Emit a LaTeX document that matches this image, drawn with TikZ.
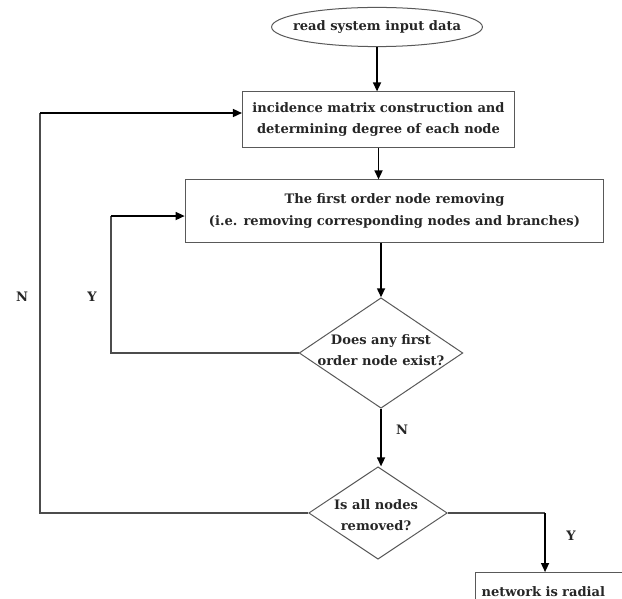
\documentclass[tikz,border=0pt]{standalone}
\usepackage{fontspec}
\setmainfont{DejaVu Serif}
\usetikzlibrary{shapes.geometric,arrows.meta}
\begin{document}
\begin{tikzpicture}[scale=0.35]
\tikzstyle{every node}+=[inner sep=0pt, font=\bfseries\fontsize{13}{21}\selectfont, text=black!85]
\tikzstyle{block}=[draw=black!65, line width=1pt, rectangle, align=center]
\tikzstyle{decision}=[draw=black!65, line width=1pt, diamond]
\tikzstyle{flow}=[draw=black, line width=1.5pt, -{Triangle[length=9pt,width=8pt]}]
\tikzstyle{loop}=[draw=black!70, line width=1.3pt]
\useasboundingbox (0,0) rectangle (62.2,-59.9);
\node [draw=black!65, line width=1pt, ellipse, minimum width=210pt, minimum height=39pt] (read) at (37.7,-2.7) {};
\node at (read) {read system input data};
\node [block, minimum width=271pt, minimum height=55pt] (init) at (37.85,-11.95) {incidence matrix construction and\\determining degree of each node};
\node [block, minimum width=417pt, minimum height=62pt] (remove) at (39.45,-21.1) {The first order node removing\\(i.e. removing corresponding nodes and branches)};
\node [decision, minimum width=163pt, minimum height=110pt] (q1) at (38.1,-35.3) {};
\node [align=center] at (38.1,-35.0) {Does any first\\order node exist?};
\node [decision, minimum width=138pt, minimum height=92pt] (q2) at (37.8,-51.3) {};
\node [align=center] at (37.6,-51.5) {Is all nodes\\removed?};
\node [block, minimum width=160pt, minimum height=40pt, anchor=north west, align=left, text width=150pt, inner xsep=6pt] (radial) at (47.5,-57.2) {network is radial\vphantom{g}};
\coordinate (ycorner) at (11.1,-21.6);
\coordinate (ncorner) at (4.0,-11.3);
\coordinate (yright) at (54.5,-51.5);
\draw [flow] (read.south) -- (read.south |- init.north);
\draw [flow] (init.south) -- (init.south |- remove.north);
\draw [flow] (q1.north |- remove.south) -- (q1.north);
\draw [flow] (q1.south) -- (q1.south |- q2.north);
\draw [loop] (q1.west) -| (ycorner);
\draw [flow] (ycorner) -- (ycorner -| remove.west);
\draw [loop] (q2.west) -| (ncorner);
\draw [flow] (ncorner) -- (ncorner -| init.west);
\draw [loop] (q2.east) -- (q2.east -| yright);
\draw [flow] (q2.east -| yright) -- (yright |- radial.north);
\draw (2.2,-29.7) node {N};
\draw (9.2,-29.7) node {Y};
\draw (40.2,-43.0) node {N};
\draw (57.1,-53.6) node {Y};
\end{tikzpicture}
\end{document}
